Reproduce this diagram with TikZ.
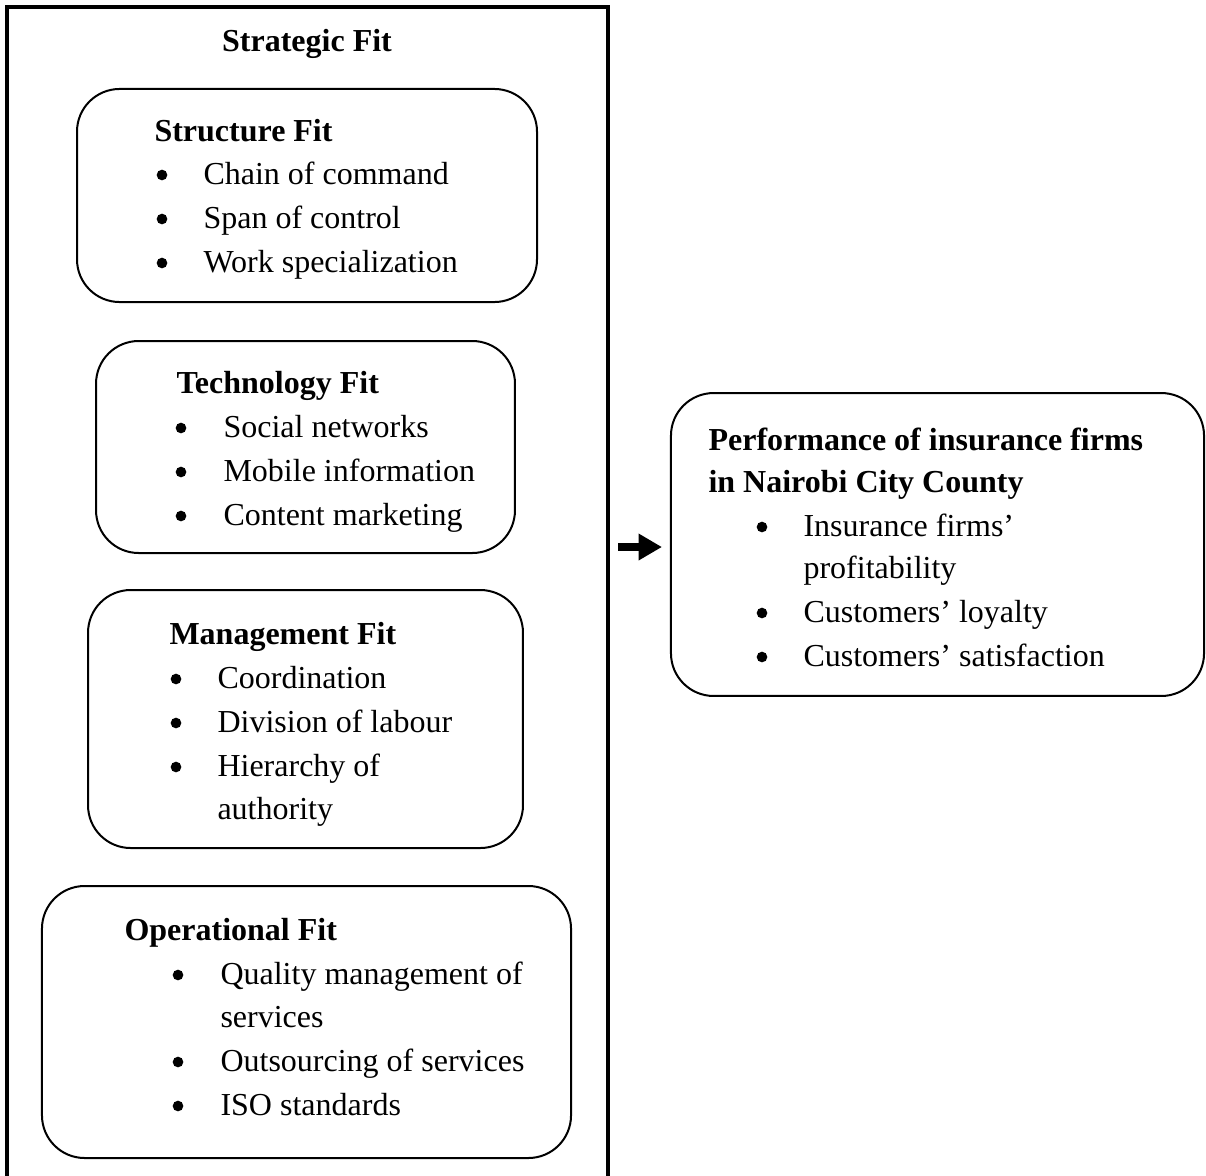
\documentclass[tikz,border=0pt]{standalone}
\usepackage{fontspec}
\setmainfont{Liberation Serif}
\usetikzlibrary{arrows.meta}

\begin{document}
\begin{tikzpicture}[x=0.375pt, y=-0.375pt, font=\fontsize{12}{16}\selectfont]
    \tikzstyle{fitbox} = [draw, line width=0.75pt, rounded corners=16pt, inner sep=0pt]
    \tikzstyle{head} = [font=\fontsize{12}{16}\selectfont\bfseries, anchor=base west, inner sep=0pt]
    \tikzstyle{item} = [anchor=base west, inner sep=0pt]
    \tikzstyle{dot} = [circle, fill, inner sep=0pt, minimum size=4pt]
    \tikzstyle{fatarrow} = [line width=3pt, -{Triangle[length=8.8pt, width=9.5pt]}]

    \useasboundingbox (0,0) rectangle (1206,1175);

    % Outer frame, open at the bottom
    \draw[line width=1.6pt] (7,1190) -- (7,7) -- (608,7) -- (608,1190);
    \node[font=\fontsize{12}{16}\selectfont\bfseries, anchor=base, inner sep=0pt] (strategic) at (307,51) {Strategic Fit};

    % Structure Fit
    \node[fitbox, minimum width=172.5pt, minimum height=79.9pt] (structure) at (307,195.5) {};
    \node[head] (structure-h) at (154,141) {Structure Fit};
    \foreach \i/\y/\txt in {1/184/Chain of command, 2/228/Span of control, 3/272/Work specialization} {
        \node[dot] (structure-b\i) at (162,\y-9) {};
        \node[item] (structure-\i) at (203,\y) {\txt};
    }

    % Technology Fit
    \node[fitbox, minimum width=157.1pt, minimum height=79.5pt] (technology) at (305.5,447) {};
    \node[head] (technology-h) at (176,393) {Technology Fit};
    \foreach \i/\y/\txt in {1/437/Social networks, 2/481/Mobile information, 3/525/Content marketing} {
        \node[dot] (technology-b\i) at (181,\y-9) {};
        \node[item] (technology-\i) at (223,\y) {\txt};
    }

    % Management Fit
    \node[fitbox, minimum width=163.1pt, minimum height=96.75pt] (management) at (305.5,719) {};
    \node[head] (management-h) at (169,644) {Management Fit};
    \foreach \i/\y/\txt in {1/688/Coordination, 2/732/Division of labour, 3/776/Hierarchy of} {
        \node[dot] (management-b\i) at (176,\y-9) {};
        \node[item] (management-\i) at (217,\y) {\txt};
    }
    \node[item] (management-3b) at (217,819) {authority};

    % Operational Fit
    \node[fitbox, minimum width=198.4pt, minimum height=102pt] (operational) at (306.5,1022) {};
    \node[head] (operational-h) at (124,940) {Operational Fit};
    \foreach \i/\y/\txt in {1/984/Quality management of, 2/1071/Outsourcing of services, 3/1115/ISO standards} {
        \node[dot] (operational-b\i) at (178,\y-9) {};
        \node[item] (operational-\i) at (220,\y) {\txt};
    }
    \node[item] (operational-1b) at (220,1027) {services};

    % Performance
    \node[fitbox, minimum width=199.9pt, minimum height=113.6pt] (perf) at (937.5,544.5) {};
    \node[head] (perf-h1) at (708,450) {Performance of insurance firms};
    \node[head] (perf-h2) at (708,492) {in Nairobi City County};
    \foreach \i/\y/\txt in {1/536/Insurance firms’, 2/622/Customers’ loyalty, 3/666/Customers’ satisfaction} {
        \node[dot] (perf-b\i) at (762,\y-9) {};
        \node[item] (perf-\i) at (803,\y) {\txt};
    }
    \node[item] (perf-1b) at (803,578) {profitability};

    % Arrow
    \coordinate (arrowtail) at (618,547);
    \draw[fatarrow, shorten >=3pt] (arrowtail) -- (arrowtail -| perf.west);
\end{tikzpicture}
\end{document}
